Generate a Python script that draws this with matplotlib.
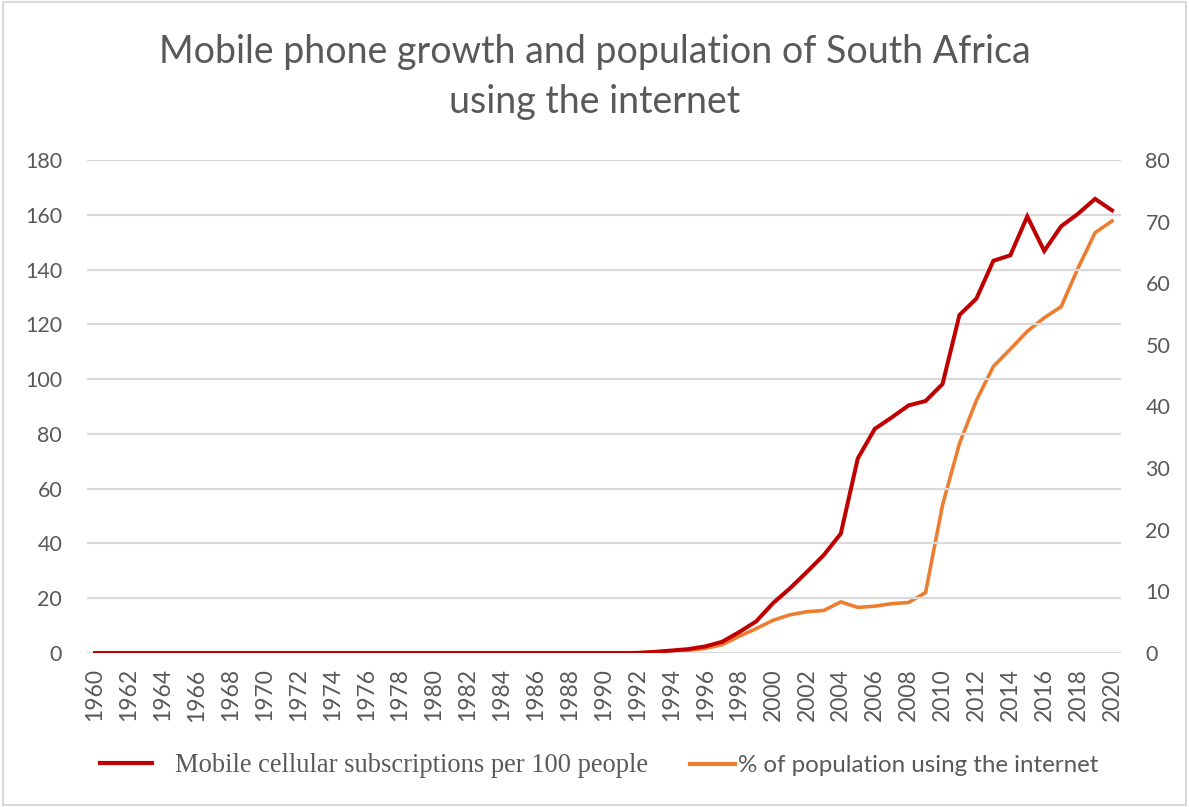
import matplotlib
matplotlib.use("Agg")
import matplotlib.pyplot as plt
from matplotlib.patches import Rectangle

# Jahre 1960-2020
years = list(range(1960, 2021))

# Mobilfunkverträge pro 100 Einwohner (1960-2020)
mobile_per_100 = [
    0, 0, 0, 0, 0, 0, 0, 0, 0, 0,          # 1960-1969
    0, 0, 0, 0, 0, 0, 0, 0, 0, 0,          # 1970-1979
    0, 0, 0, 0, 0, 0, 0, 0, 0, 0,          # 1980-1989
    0, 0, 0.05, 0.4, 0.9, 1.4, 2.4, 4.1, 7.6, 11.5,   # 1990-1999
    18.2, 23.6, 29.6, 35.8, 43.6, 71.0, 81.8, 86.0, 90.4, 92.0,   # 2000-2009
    98.2, 123.4, 129.4, 143.2, 145.2, 159.4, 146.8, 155.8, 160.4, 165.8,   # 2010-2019
    161.6,                                  # 2020
]

# Anteil der Bevölkerung mit Internetzugang in % (1960-2020)
internet_pct = [
    0, 0, 0, 0, 0, 0, 0, 0, 0, 0,
    0, 0, 0, 0, 0, 0, 0, 0, 0, 0,
    0, 0, 0, 0, 0, 0, 0, 0, 0, 0,
    0, 0, 0, 0.1, 0.3, 0.45, 0.75, 1.35, 2.7, 3.95,
    5.3, 6.2, 6.7, 6.9, 8.3, 7.4, 7.6, 8.0, 8.2, 9.8,
    24.0, 34.0, 41.0, 46.5, 49.3, 52.2, 54.4, 56.2, 62.5, 68.2,
    70.1,
]

year_ticks = list(range(1960, 2021, 2))
left_ticks = list(range(0, 181, 20))
right_ticks = list(range(0, 81, 10))

text_grey = "#595959"
grid_grey = "#d9d9d9"
red = "#c00000"
orange = "#ed7d31"

W, H = 1189, 807
fig = plt.figure(figsize=(W / 100, H / 100), dpi=100)

# Rahmen um die Grafik
fig.patches.append(Rectangle((3 / W, 2 / H), 1 - 6 / W, 1 - 4 / H, transform=fig.transFigure,
                             fill=False, edgecolor=grid_grey, linewidth=1.5))

ax = fig.add_axes([86.5 / W, (H - 653) / H, (1120.5 - 86.5) / W, (653 - 160) / H])
ax2 = ax.twinx()

ax.set_xlim(1959.5, 2020.5)
ax.set_ylim(0, 180)
ax2.set_ylim(0, 80)
ax.set_xticks(year_ticks)
ax.set_yticks(left_ticks)
ax2.set_yticks(right_ticks)
ax.grid(axis="y", color=grid_grey, linewidth=1.6)
ax.set_axisbelow(True)

for a in (ax, ax2):
    for s in a.spines.values():
        s.set_visible(False)

ax.tick_params(axis="x", length=0, pad=11, labelrotation=90, labelcolor=text_grey)
ax.tick_params(axis="y", length=0, pad=17.5, labelcolor=text_grey)
ax2.tick_params(axis="y", length=0, pad=18, labelcolor=text_grey)
for lab in ax.get_yticklabels() + ax2.get_yticklabels():
    lab.set_fontfamily("Lato")
    lab.set_fontsize(15.5)
for lab in ax.get_xticklabels():
    lab.set_fontfamily("Lato")
    lab.set_fontsize(16.5)

line_mobile, = ax.plot(years, mobile_per_100, color=red, linewidth=2.9, solid_joinstyle="miter",
                       zorder=3)
line_net, = ax2.plot(years, internet_pct, color=orange, linewidth=2.6, zorder=2)
ax.set_zorder(ax2.get_zorder() + 1)
ax.patch.set_visible(False)

fig.text(0.5, 1 - 77 / H, "Mobile phone growth and population of South Africa\nusing the internet",
         ha="center", va="center", fontsize=27, family="Lato", color=text_grey, linespacing=1.45)

# zwei getrennte Legenden, da unterschiedliche Schriften
leg1 = fig.legend([line_mobile], ["Mobile cellular subscriptions per 100 people"],
                  loc="center left", bbox_to_anchor=(100 / W, (H - 766) / H), frameon=False,
                  borderpad=0, borderaxespad=0, handlelength=1.97, handletextpad=0.87,
                  prop=dict(family="Liberation Serif", size=19.1))
leg2 = fig.legend([line_net], ["% of population using the internet"],
                  loc="center left", bbox_to_anchor=(690 / W, (H - 766) / H), frameon=False,
                  borderpad=0, borderaxespad=0, handlelength=1.88, handletextpad=0.12,
                  prop=dict(family="Lato", size=17.4))
for leg in (leg1, leg2):
    for t in leg.get_texts():
        t.set_color(text_grey)
    for h in leg.legend_handles:
        h.set_linewidth(3)

fig.savefig("out.png", dpi=100)
